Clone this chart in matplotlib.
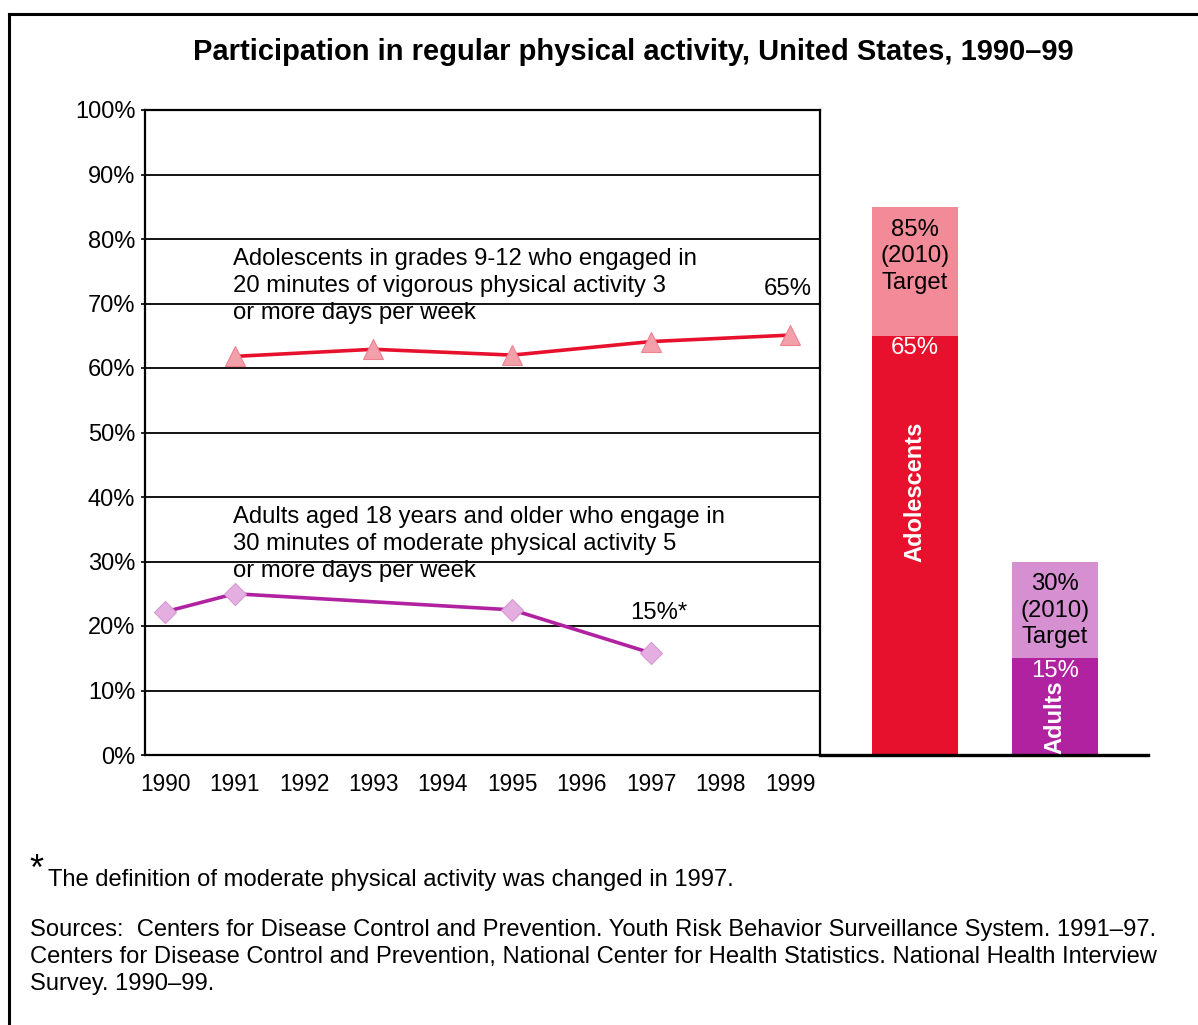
import matplotlib
matplotlib.use("Agg")
import matplotlib.pyplot as plt
from matplotlib.lines import Line2D

plt.rcParams['font.family'] = ['Liberation Sans', 'DejaVu Sans']

# datos
anios = [1990, 1991, 1992, 1993, 1994, 1995, 1996, 1997, 1998, 1999]
anios_adolescentes = [1991, 1993, 1995, 1997, 1999]
adolescentes = [61.8, 62.9, 62.0, 64.1, 65.1]
anios_adultos = [1990, 1991, 1995, 1997]
adultos = [22.2, 25.0, 22.5, 15.8]

grupos = ['Adolescents', 'Adults']
actual = [65, 15]
meta = [85, 30]

rojo = '#E8112D'
rosa = '#F28B97'
morado = '#B022A0'
lila = '#D68FD0'

fig = plt.figure(figsize=(11.98, 10.25), dpi=100)

# marco exterior
fig.add_artist(Line2D([9/1198, 9/1198], [0, 1 - 14/1025], color='black', lw=2.2))
fig.add_artist(Line2D([9/1198, 1], [1 - 14/1025, 1 - 14/1025], color='black', lw=2.2))

fig.text(633/1198, 1 - 52/1025, 'Participation in regular physical activity, United States, 1990\u201399',
         ha='center', va='center', fontsize=21, fontweight='bold')

ax = fig.add_axes([145/1198, 1 - 755/1025, 675/1198, 645/1025])
ax.set_xlim(1989.71, 1999.43)
ax.set_ylim(0, 100)
for s in ax.spines.values():
    s.set_linewidth(1.6)
ax.set_yticks(range(0, 101, 10))
ax.set_yticklabels([f'{v}%' for v in range(0, 101, 10)])
ax.set_xticks(anios)
ax.set_xticklabels([str(a) for a in anios])
ax.tick_params(axis='y', labelsize=17, length=3, width=1.2, pad=4)
ax.tick_params(axis='x', labelsize=16.3, length=0, pad=13)
ax.grid(axis='y', color='black', lw=1.3)
ax.set_axisbelow(True)

ax.plot(anios_adolescentes, adolescentes, color=rojo, lw=2.6, marker='^', markersize=15,
        markerfacecolor='#F2A0AA', markeredgecolor='#F08090', markeredgewidth=0.8, zorder=3)
ax.plot(anios_adultos, adultos, color=morado, lw=2.6, marker='D', markersize=11.5,
        markerfacecolor='#E4AEE0', markeredgecolor='#D898D2', markeredgewidth=0.8, zorder=3)

ax.text(1990.98, 72.7, 'Adolescents in grades 9-12 who engaged in\n20 minutes of vigorous physical activity 3\nor more days per week',
        fontsize=17.2, va='center', ha='left', linespacing=1.27)
ax.text(1998.97, 72.2, '65%', fontsize=17.2, ha='center', va='center')
ax.text(1990.98, 32.7, 'Adults aged 18 years and older who engage in\n30 minutes of moderate physical activity 5\nor more days per week',
        fontsize=17.2, va='center', ha='left', linespacing=1.27)
ax.text(1997.1, 22.0, '15%*', fontsize=17.2, ha='center', va='center')

# barras
axb = fig.add_axes([820/1198, 1 - 755/1025, 328/1198, 645/1025])
axb.set_xlim(-0.679, 1.664)
axb.set_ylim(0, 100)
axb.patch.set_alpha(0)
for k in ['top', 'right', 'left']:
    axb.spines[k].set_visible(False)
axb.spines['bottom'].set_linewidth(2.4)
axb.set_xticks([])
axb.set_yticks([])

pos = list(range(len(grupos)))
axb.bar(pos, actual, width=0.614, color=[rojo, morado], zorder=2)
axb.bar(pos, [m - a for m, a in zip(meta, actual)], bottom=actual, width=0.614,
        color=[rosa, lila], zorder=2)

for i in pos:
    axb.text(i, meta[i] - 7.65, f'{meta[i]}%\n(2010)\nTarget', ha='center', va='center',
             fontsize=17.2, linespacing=1.27)
    axb.text(i, actual[i] - 1.9, f'{actual[i]}%', ha='center', va='center',
             fontsize=17.2, color='white')
axb.text(0, 40.8, grupos[0], rotation=90, ha='center', va='center', fontsize=17,
         fontweight='bold', color='white')
axb.text(1, 5.9, grupos[1], rotation=90, ha='center', va='center', fontsize=17,
         fontweight='bold', color='white')

# notas
fig.text(29/1198, 1 - 870/1025, '*', fontsize=26, ha='left', va='center')
fig.text(48/1198, 1 - 880/1025, 'The definition of moderate physical activity was changed in 1997.',
         fontsize=17.1, ha='left', va='center')
fig.text(30/1198, 1 - 957/1025,
         'Sources:  Centers for Disease Control and Prevention. Youth Risk Behavior Surveillance System. 1991\u201397.\n'
         'Centers for Disease Control and Prevention, National Center for Health Statistics. National Health Interview\n'
         'Survey. 1990\u201399.',
         fontsize=17.1, ha='left', va='center', linespacing=1.27)

fig.savefig('out.png', dpi=100)
